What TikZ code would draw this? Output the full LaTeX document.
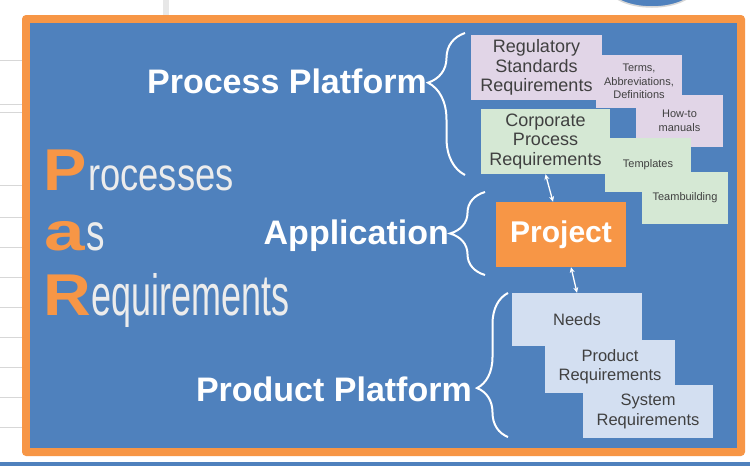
\documentclass[tikz,border=0pt]{standalone}
\usepackage{fontspec}
\setmainfont{Liberation Sans}
\usetikzlibrary{arrows.meta, decorations.pathreplacing}

\begin{document}
\begin{tikzpicture}[x=1pt, y=-1pt,
        card/.style={rectangle, inner sep=0pt, align=center, text=text grey},
        main card/.style={card, minimum width=130, minimum height=65,
            font=\fontsize{18}{19.5}\selectfont},
        note card/.style={card, minimum width=86, minimum height=53,
            font=\fontsize{11}{13.5}\selectfont},
        need card/.style={card, fill=need blue, minimum width=130, minimum height=53,
            font=\fontsize{16.5}{19.5}\selectfont},
        platform/.style={anchor=base east, inner sep=0pt, text=white,
            font=\bfseries\fontsize{34}{40}\selectfont},
        curly/.style={draw=white, line width=2pt, decorate,
            decoration={brace, amplitude=#1}},
        par cap/.style={anchor=base west, inner sep=0pt, text=frame orange,
            font=\bfseries\fontsize{59}{60}\selectfont},
        par rest/.style={anchor=base west, inner sep=0pt, text=par grey},
        link/.style={draw=white, line width=1.3pt,
            {Stealth[length=5.5pt, width=5pt]}-{Stealth[length=5.5pt, width=5pt]}}]
        \definecolor{panel blue}{RGB}{79,129,189}
        \definecolor{frame orange}{RGB}{247,150,70}
        \definecolor{reg lilac}{RGB}{225,213,231}
        \definecolor{corp green}{RGB}{213,232,212}
        \definecolor{need blue}{RGB}{211,223,241}
        \definecolor{text grey}{RGB}{64,64,64}
        \definecolor{par grey}{RGB}{236,236,236}
        \definecolor{sheet grey}{RGB}{215,215,215}

        \useasboundingbox (0,0) rectangle (750,466);
        \fill [white] (0,0) rectangle (750,466);
        \foreach \y in {185,217,247,277,307,337,367,397,427}
            \draw [sheet grey, line width=0.8pt] (0,\y) -- (22,\y);
        \draw [sheet grey] (0,60) -- (22,60) (0,104) -- (22,104) (0,112) -- (22,112);
        \fill [sheet grey!60] (163,0) rectangle (169,15);
        \draw [sheet grey, line width=1.5pt, fill=panel blue] (652,-14) ellipse (44 and 21);
        \fill [panel blue] (0,462) rectangle (750,466);

        \fill [frame orange, rounded corners=4] (22,15) rectangle (745,456);
        \fill [panel blue] (30,23) rectangle (737,448);

        \node [par cap] (cap p) at (43,190) {\scalebox{1.1}[1]{P}};
        \node [par rest, font=\fontsize{46}{50}\selectfont] (rest p) at (88,190) {\scalebox{0.79}[1]{rocesses}};
        \node [par cap, font=\bfseries\fontsize{54}{56}\selectfont] (cap a) at (44,250) {\scalebox{1.35}[1]{a}};
        \node [par rest, font=\fontsize{52}{56}\selectfont] (rest a) at (86,250) {\scalebox{0.71}[1]{s}};
        \node [par cap] (cap r) at (43.5,315) {\scalebox{1.12}[1]{R}};
        \node [par rest, font=\fontsize{58}{60}\selectfont] (rest r) at (91.5,315) {\scalebox{0.62}[1]{equirements}};

        \node [note card, fill=reg lilac, minimum width=87, minimum height=52] (howto) at (679.5,121) {How-to\\manuals};
        \node [note card, fill=reg lilac] (terms) at (639,81.5) {Terms,\\Abbreviations,\\Definitions};
        \node [main card, fill=reg lilac, minimum width=131] (reg) at (536.5,67.5) {Regulatory\\Standards\\Requirements};
        \node [note card, fill=corp green, minimum height=54] (templ) at (648,165) {Templates};
        \node [main card, fill=corp green, minimum width=129] (corp) at (545.5,141.5) {Corporate\\Process\\Requirements};
        \node [note card, fill=corp green, minimum height=52] (team) at (685,198) {Teambuilding};

        \node [rectangle, fill=frame orange, minimum width=130, minimum height=65, text=white,
            font=\bfseries\fontsize{30}{36}\selectfont] (project) at (561,234.5) {Project};

        \node [need card] (needs) at (577,319.5) {Needs};
        \node [need card] (product) at (610,366.5) {Product\\Requirements};
        \node [need card] (system) at (648,411.5) {System\\Requirements};

        \draw [link] (corp.south) -- ([xshift=-8pt]project.north);
        \draw [link] ([xshift=10pt]project.south) -- (needs.north);

        \coordinate (pp top) at (465,33);
        \coordinate (pp bot) at (465,175);
        \draw [curly=37pt, decoration={aspect=0.65}] (pp bot) -- (pp top);
        \node [platform] (process) at (427,93) {Process Platform};

        \coordinate (ap top) at (485,192);
        \coordinate (ap bot) at (485,275);
        \draw [curly=35pt, decoration={aspect=0.5}] (ap bot) -- (ap top);
        \node [platform] (application) at (449,244) {Application};

        \coordinate (pr top) at (508,293);
        \coordinate (pr bot) at (508,437);
        \draw [curly=31pt, decoration={aspect=0.34}] (pr bot) -- (pr top);
        \node [platform] (product label) at (472,401) {Product Platform};
    \end{tikzpicture}
\end{document}
